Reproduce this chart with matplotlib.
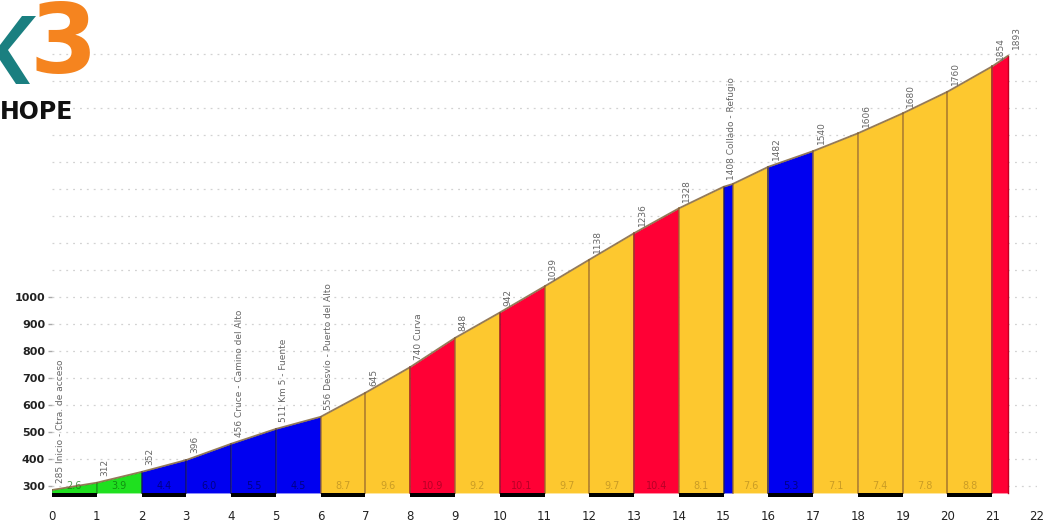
import matplotlib
matplotlib.use("Agg")
import matplotlib.pyplot as plt
from matplotlib.patches import Polygon
import numpy as np

# ---- data ----
km_points = [0, 1, 2, 3, 4, 5, 6, 7, 8, 9, 10, 11, 12, 13, 14, 15, 15.2, 16, 17, 18, 19, 20, 21, 21.35]
elevations = [285, 312, 352, 396, 456, 511, 556, 645, 740, 848, 942, 1039, 1138, 1236, 1328, 1408,
              1418, 1482, 1540, 1606, 1680, 1760, 1854, 1893]
grade_labels = ["2.6", "3.9", "4.4", "6.0", "5.5", "4.5", "8.7", "9.6", "10.9", "9.2", "10.1", "9.7",
                "9.7", "10.4", "8.1", "", "7.6", "5.3", "7.1", "7.4", "7.8", "8.8", ""]
grades = [2.6, 3.9, 4.4, 6.0, 5.5, 4.5, 8.7, 9.6, 10.9, 9.2, 10.1, 9.7, 9.7, 10.4, 8.1, 5.0, 7.6, 5.3,
          7.1, 7.4, 7.8, 8.8, 11.3]
point_labels = ["285 Inicio - Ctra. de acceso", "312", "352", "396", "456 Cruce - Camino del Alto",
                "511 Km 5 - Fuente", "556 Desvío - Puerto del Alto", "645", "740 Curva", "848", "942",
                "1039", "1138", "1236", "1328", "1408 Collado - Refugio", "", "1482", "1540", "1606",
                "1680", "1760", "1854", "1893"]
y_ticks = [300, 400, 500, 600, 700, 800, 900, 1000]
x_ticks = list(range(0, 23))
base_elev = 274

def grade_color(g):
    if g < 4:
        return "#1fe01f", "#0b6e0b", "#118811"
    if g < 7:
        return "#0000f0", "#00005a", "#101060"
    if g < 10:
        return "#fdc82f", "#b58a20", "#9a6a2a"
    return "#ff0035", "#9a0020", "#8a0020"

fig = plt.figure(figsize=(10.59, 5.25), dpi=100)
# axes: x 0 -> px 52, 22 -> px 1037 ; bottom px 497 (elev 259), top px 0
ax = fig.add_axes([52 / 1059, (525 - 497) / 525, 985 / 1059, 497 / 525])
ax.set_xlim(0, 22)
ax.set_ylim(259, 259 + 497 / 0.27)
for s in ax.spines.values():
    s.set_visible(False)

# grid
for g in range(300, 2000, 100):
    ax.plot([0, 22.1], [g, g], color="#d2d2d2", lw=0.9, ls=(0, (1.5, 4)), zorder=0)

# fills
for i in range(len(km_points) - 1):
    x0, x1 = km_points[i], km_points[i + 1]
    e0, e1 = elevations[i], elevations[i + 1]
    fc, tc, ec = grade_color(grades[i])
    ax.fill_between([x0, x1], [e0, e1], base_elev, color=fc, lw=0, zorder=2)
    ax.plot([x0, x0], [base_elev, e0], color=ec, lw=1.2, alpha=0.8, zorder=3)
    if grade_labels[i]:
        ax.text((x0 + x1) / 2, 300, grade_labels[i], ha="center", va="center",
                fontsize=7, color=tc, alpha=0.7, zorder=4)
ax.plot([km_points[-1]] * 2, [base_elev, elevations[-1]], color="#c00020", lw=1, zorder=3)
ax.plot(km_points, elevations, color="#7a5a30", lw=1.3, alpha=0.8, zorder=4)

# alternating km strip
for k in range(0, 22, 2):
    ax.fill_between([k, k + 1], base_elev - 16, base_elev, color="black", lw=0, zorder=3)

# vertical labels
for i, lab in enumerate(point_labels):
    if not lab:
        continue
    x = km_points[i] + 0.08
    ax.text(x, elevations[i] + 25, lab, rotation=90, ha="left", va="bottom",
            fontsize=6.5, color="#666666", zorder=5)

# ticks
ax.set_xticks(x_ticks)
ax.set_xticklabels([str(t) for t in x_ticks], fontsize=8.5, color="#222222")
ax.tick_params(axis="x", length=0, pad=9)
ax.set_yticks(y_ticks)
ax.set_yticklabels([str(t) for t in y_ticks], fontsize=8, fontweight="bold", color="#222222")
ax.tick_params(axis="y", length=3, width=1, color="#aaaaaa", pad=2)

# logo: teal partial "K" arms drawn as a shape, orange 3, HOPE
W, H = 1059, 525
def fpt(x, y):
    return (x / W, 1 - y / H)
k_arm = [fpt(0, 45), fpt(22, 16), fpt(36, 16), fpt(8, 50), fpt(30, 84), fpt(16, 84), fpt(0, 60)]
fig.patches.append(Polygon(k_arm, closed=True, transform=fig.transFigure,
                           facecolor="#1a7f80", edgecolor="none"))
fig.text(0.028, 1.0, "3", fontsize=70, fontweight="bold", color="#f5841f",
         ha="left", va="top", family="DejaVu Sans")
fig.text(0.0, 1 - 100 / 525, "HOPE", fontsize=17, fontweight="bold", color="#111111",
         ha="left", va="top", family="Liberation Sans Narrow")

fig.savefig("out.png", dpi=100)
